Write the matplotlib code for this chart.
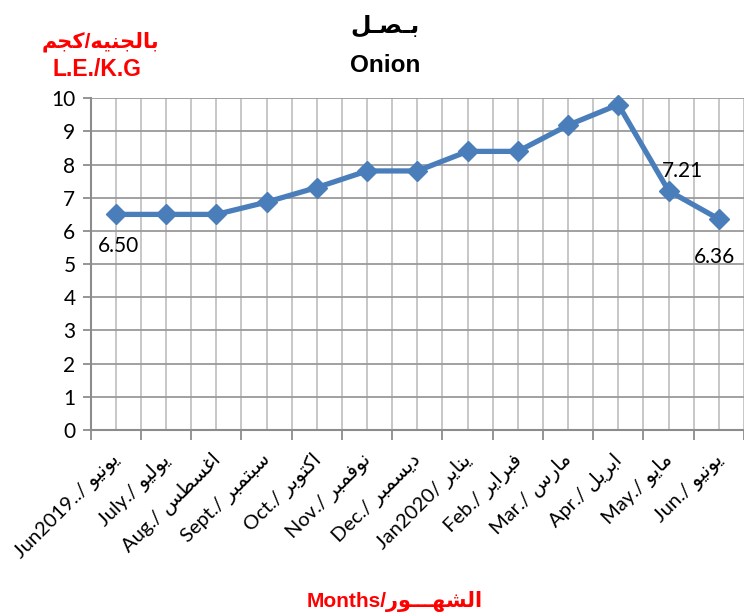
import numpy as np
import matplotlib
matplotlib.use("Agg")
import matplotlib.pyplot as plt

# ---------------- data ----------------
months_en = ["Jun2019../", "July./", "Aug./", "Sept./", "Oct./", "Nov./", "Dec./",
             "Jan2020/", "Feb./", "Mar./", "Apr./", "May./", "Jun./"]
months_ar = ["يونيو", "يوليو", "اغسطس", "سبتمبر", "اكتوبر", "نوفمبر", "ديسمبر",
             "يناير", "فبراير", "مارس", "ابريل", "مايو", "يونيو"]
prices = [6.50, 6.50, 6.50, 6.87, 7.31, 7.81, 7.81, 8.40, 8.40, 9.19, 9.81, 7.21, 6.36]
labelled = {0: "6.50", 11: "7.21", 12: "6.36"}

# ------------- tiny Arabic shaper (no arabic_reshaper here) --------------
# letter -> (isolated, final, initial, medial); None means right-joining only
FORMS = {
    "ا": (0xFE8D, 0xFE8E, None, None), "ب": (0xFE8F, 0xFE90, 0xFE91, 0xFE92),
    "ت": (0xFE95, 0xFE96, 0xFE97, 0xFE98), "ج": (0xFE9D, 0xFE9E, 0xFE9F, 0xFEA0),
    "د": (0xFEA9, 0xFEAA, None, None), "ر": (0xFEAD, 0xFEAE, None, None),
    "ز": (0xFEAF, 0xFEB0, None, None), "س": (0xFEB1, 0xFEB2, 0xFEB3, 0xFEB4),
    "ش": (0xFEB5, 0xFEB6, 0xFEB7, 0xFEB8), "ص": (0xFEB9, 0xFEBA, 0xFEBB, 0xFEBC),
    "ط": (0xFEC1, 0xFEC2, 0xFEC3, 0xFEC4), "غ": (0xFECD, 0xFECE, 0xFECF, 0xFED0),
    "ف": (0xFED1, 0xFED2, 0xFED3, 0xFED4), "ك": (0xFED9, 0xFEDA, 0xFEDB, 0xFEDC),
    "ل": (0xFEDD, 0xFEDE, 0xFEDF, 0xFEE0), "م": (0xFEE1, 0xFEE2, 0xFEE3, 0xFEE4),
    "ن": (0xFEE5, 0xFEE6, 0xFEE7, 0xFEE8), "ه": (0xFEE9, 0xFEEA, 0xFEEB, 0xFEEC),
    "و": (0xFEED, 0xFEEE, None, None), "ي": (0xFEF1, 0xFEF2, 0xFEF3, 0xFEF4),
}
TATWEEL = "\u0640"


def joins_left(c):
    # can connect to the following letter
    return c == TATWEEL or (c in FORMS and FORMS[c][2] is not None)


def ar(text):
    chars = list(text)
    out = []
    i = 0
    while i < len(chars):
        c = chars[i]
        prev = chars[i - 1] if i > 0 else ""
        nxt = chars[i + 1] if i + 1 < len(chars) else ""
        if c == "ل" and nxt == "ا":  # lam-alef ligature
            out.append(chr(0xFEFC if joins_left(prev) else 0xFEFB))
            i += 2
            continue
        if c not in FORMS:
            out.append(c)
            i += 1
            continue
        iso, fin, ini, med = FORMS[c]
        p = joins_left(prev)
        n = ini is not None and (nxt in FORMS or nxt == TATWEEL)
        if p and n:
            out.append(chr(med))
        elif p:
            out.append(chr(fin))
        elif n:
            out.append(chr(ini))
        else:
            out.append(chr(iso))
        i += 1
    return "".join(reversed(out))


FONT = ["Lato", "DejaVu Sans"]
BOLD = ["Liberation Sans", "DejaVu Sans"]
plt.rcParams["font.family"] = FONT

# ------------- plot --------------
fig = plt.figure(figsize=(7.44, 6.13), dpi=100)
ax = fig.add_axes([90.7 / 744, 1 - 430 / 613, 1 - 90.7 / 744, (430 - 98.3) / 613])

x = np.arange(len(prices))
ax.plot(x, prices, color="#4a7ebb", lw=3.8, marker="D", ms=10, zorder=3, clip_on=False)

ax.set_xlim(-0.5, len(prices) - 0.5)
ax.set_ylim(0, 10)
ax.set_yticks(range(0, 11))
ax.set_xticks(np.arange(-0.5, len(prices), 1.0))
ax.set_xticklabels([])
ax.set_xticks(x, minor=True)
ax.tick_params(axis="x", which="major", length=7, width=1.3, color="#8c8c8c")
ax.tick_params(axis="x", which="minor", length=0)
ax.tick_params(axis="y", length=6, width=1.3, color="#8c8c8c", labelsize=15, pad=5)

ax.grid(axis="y", color="#9a9a9a", lw=1.3)
ax.grid(axis="x", which="both", color="#bdbdbd", lw=1.2)
ax.set_axisbelow(True)
for s in ["top", "right"]:
    ax.spines[s].set_visible(False)
for s in ["left", "bottom"]:
    ax.spines[s].set_color("#8c8c8c")
    ax.spines[s].set_linewidth(1.5)

# rotated month labels
for i in x:
    ax.text(i - 0.12, -0.6, months_en[i] + " " + ar(months_ar[i]), rotation=45,
            rotation_mode="anchor", ha="right", va="top", fontsize=14.5)

# data labels
offsets = {0: (0.05, -0.95), 11: (0.27, 0.6), 12: (-0.08, -1.15)}
for i, txt in labelled.items():
    dx, dy = offsets[i]
    ax.text(i + dx, prices[i] + dy, txt, ha="center", va="center", fontsize=15)

# titles
fig.text(385 / 744, 1 - 26 / 613, ar("بـصـل"), ha="center", va="center",
         fontsize=17, fontweight="bold", family=BOLD)
fig.text(385 / 744, 1 - 65 / 613, "Onion", ha="center", va="center",
         fontsize=17.5, fontweight="bold", family=BOLD)
fig.text(100 / 744, 1 - 42 / 613, ar("بالجنيه/كجم"), ha="center", va="center",
         fontsize=15, fontweight="bold", color="red", family=BOLD)
fig.text(97 / 744, 1 - 70 / 613, "L.E./K.G", ha="center", va="center",
         fontsize=16.5, fontweight="bold", color="red", family=BOLD)
fig.text(395 / 744, 1 - 601 / 613, "Months/" + ar("الشهـــور"), ha="center",
         va="center", fontsize=15, fontweight="bold", color="red", family=BOLD)

fig.savefig("out.png", dpi=100)
